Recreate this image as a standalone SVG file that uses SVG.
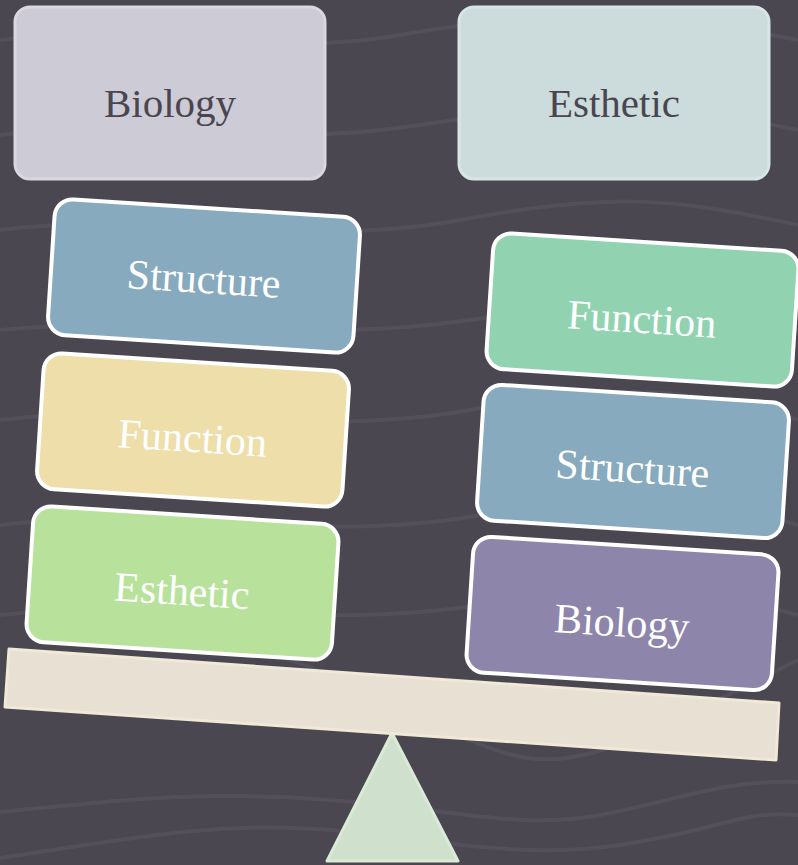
<svg xmlns="http://www.w3.org/2000/svg" width="798" height="865" viewBox="0 0 798 865">
<defs>
<style>
.bg{fill:#4a4751}
.wave{fill:none;stroke:#57545f;stroke-width:4;opacity:0.7}
.top{stroke-width:3}
.tt{font-family:"Liberation Serif",serif;font-size:41px;fill:#4a4650;text-anchor:middle}
.blk{stroke:#ffffff;stroke-width:4}
.bt{font-family:"Liberation Serif",serif;font-size:42px;fill:#ffffff;text-anchor:middle}
</style>
</defs>
<rect class="bg" x="0" y="0" width="798" height="865"/>
<g id="background-waves">
<path class="wave" d="M0,40 C150,20 260,60 400,35 S650,10 798,40"/>
<path class="wave" d="M0,135 C120,120 260,150 420,125 S660,100 798,130"/>
<path class="wave" d="M0,230 C140,210 300,250 460,220 S680,200 798,225"/>
<path class="wave" d="M0,330 C160,315 300,345 470,320 S680,300 798,330"/>
<path class="wave" d="M0,420 C150,400 300,440 470,410 S690,390 798,420"/>
<path class="wave" d="M0,525 C150,505 320,545 480,515 S690,495 798,525"/>
<path class="wave" d="M0,615 C150,600 320,630 480,605 S690,585 798,615"/>
<path class="wave" d="M200,640 C300,650 380,700 470,740 S600,760 798,660"/>
<path class="wave" d="M0,812 C120,800 200,790 330,800 S520,830 600,815 S720,780 798,782"/>
<path class="wave" d="M0,858 C120,840 220,820 330,830 S520,860 620,845 S740,810 798,815"/>
</g>
<g id="fulcrum">
<polygon points="392,733 458,861 327,861" fill="#cfe0cc" stroke="#d9ebd5" stroke-width="3" stroke-linejoin="round"/>
</g>
<g id="plank">
<polygon points="9,649 779,703 776,760 5,707" fill="#e7e0d3" stroke="#f0e9d8" stroke-width="3" stroke-linejoin="round"/>
</g>
<g id="top-biology">
<rect class="top" x="15" y="7" width="310" height="172" rx="15" fill="#cdcbd6" stroke="#d9d7e0"/>
<text class="tt" x="170" y="117">Biology</text>
</g>
<g id="top-esthetic">
<rect class="top" x="459" y="7" width="310" height="172" rx="15" fill="#ccdbdb" stroke="#d8e5e5"/>
<text class="tt" x="614" y="117">Esthetic</text>
</g>
<g id="left-structure" transform="translate(204,276) rotate(3.7)">
<rect class="blk" x="-153" y="-68" width="306" height="136" rx="18" fill="#87aabe"/>
<text class="bt" x="0" y="17">Structure</text>
</g>
<g id="left-function" transform="translate(193,430) rotate(3.7)">
<rect class="blk" x="-153" y="-68" width="306" height="136" rx="18" fill="#eedea9"/>
<text class="bt" x="0" y="22">Function</text>
</g>
<g id="left-esthetic" transform="translate(182.5,583) rotate(3.7)">
<rect class="blk" x="-153" y="-68" width="306" height="136" rx="18" fill="#b8e29c"/>
<text class="bt" x="0" y="22">Esthetic</text>
</g>
<g id="right-function" transform="translate(642.5,310) rotate(3.7)">
<rect class="blk" x="-153" y="-68" width="306" height="136" rx="18" fill="#91d3b0"/>
<text class="bt" x="0" y="23">Function</text>
</g>
<g id="right-structure" transform="translate(633,461.5) rotate(3.7)">
<rect class="blk" x="-153" y="-68" width="306" height="136" rx="18" fill="#87aabe"/>
<text class="bt" x="0" y="21">Structure</text>
</g>
<g id="right-biology" transform="translate(622.5,613.5) rotate(3.7)">
<rect class="blk" x="-153" y="-68" width="306" height="136" rx="18" fill="#8e86aa"/>
<text class="bt" x="0" y="23">Biology</text>
</g>
<g id="connectors"/>
</svg>
